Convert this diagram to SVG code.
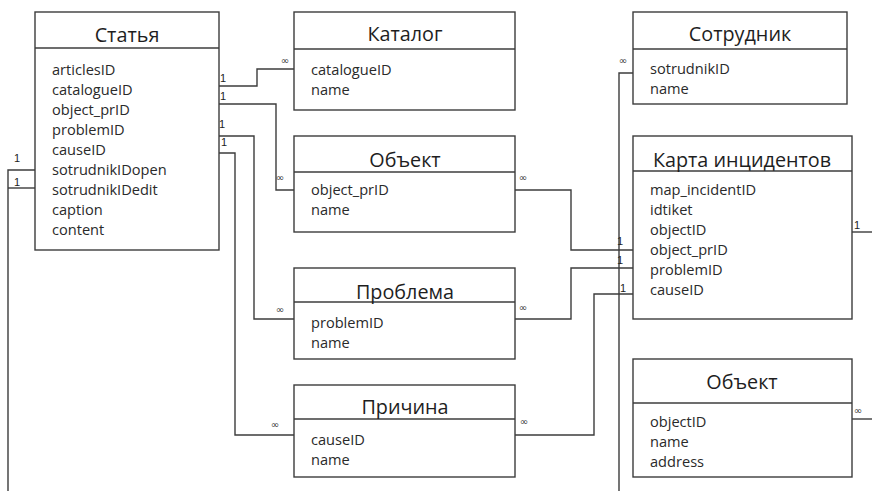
<svg xmlns="http://www.w3.org/2000/svg" width="872" height="491" viewBox="0 0 872 491">
  <style>
    .box { fill: #ffffff; stroke: #3c3c3c; stroke-width: 1.4; }
    .sep { stroke: #3c3c3c; stroke-width: 1.4; }
    .title { font-family: "Open Sans", "DejaVu Sans", sans-serif; font-size: 19.8px; fill: #1e1e1e; text-anchor: middle; }
    .field { font-family: "Open Sans", "DejaVu Sans", sans-serif; font-size: 14.6px; fill: #2a2a2a; }
    .wire { fill: none; stroke: #3c3c3c; stroke-width: 1.4; }
    .one { font-family: "Liberation Sans", Arial, sans-serif; font-size: 11px; fill: #222; }
    .many { font-family: "DejaVu Sans", sans-serif; font-size: 10px; fill: #333; text-anchor: middle; }
  </style>

  <!-- relationship lines -->
  <g id="connectors">
    <!-- Статья.catalogueID -> Каталог -->
    <polyline class="wire" points="219,86 257,86 257,69 294,69"/>
    <!-- Статья.object_prID -> Объект -->
    <polyline class="wire" points="219,104 276,104 276,190 294,190"/>
    <!-- Статья.problemID -> Проблема -->
    <polyline class="wire" points="219,136 254,136 254,319 294,319"/>
    <!-- Статья.causeID -> Причина -->
    <polyline class="wire" points="219,153 235,153 235,435 294,435"/>
    <!-- Статья.sotrudnikID* -> Сотрудник (off to the left) -->
    <polyline class="wire" points="35,170 8,170 8,491"/>
    <polyline class="wire" points="35,188 8,188"/>
    <!-- Сотрудник -> down -->
    <polyline class="wire" points="633,73 619,73 619,491"/>
    <!-- Объект -> Карта инцидентов.object_prID -->
    <polyline class="wire" points="515,190 571,190 571,250 633,250"/>
    <!-- Проблема -> Карта инцидентов.problemID -->
    <polyline class="wire" points="515,319 571,319 571,268 633,268"/>
    <!-- Причина -> Карта инцидентов.causeID -->
    <polyline class="wire" points="515,435 594,435 594,294 633,294"/>
    <!-- Карта инцидентов.objectID -> right -->
    <polyline class="wire" points="852,232 872,232"/>
    <!-- Объект (right) -> right -->
    <polyline class="wire" points="852,419 872,419"/>

    <!-- cardinality labels -->
    <text class="one" x="220" y="82">1</text>
    <text class="one" x="220" y="100">1</text>
    <text class="one" x="219" y="128">1</text>
    <text class="one" x="221" y="146">1</text>
    <text class="one" x="14" y="162">1</text>
    <text class="one" x="14" y="186">1</text>
    <text class="one" x="617" y="245">1</text>
    <text class="one" x="617" y="264">1</text>
    <text class="one" x="620" y="292">1</text>
    <text class="one" x="854" y="229">1</text>

    <text class="many" x="285" y="64">∞</text>
    <text class="many" x="280" y="181">∞</text>
    <text class="many" x="280" y="313">∞</text>
    <text class="many" x="275" y="428">∞</text>
    <text class="many" x="623" y="64">∞</text>
    <text class="many" x="523" y="181">∞</text>
    <text class="many" x="523" y="311">∞</text>
    <text class="many" x="524" y="425">∞</text>
    <text class="many" x="858" y="414">∞</text>
  </g>

  <!-- Статья -->
  <g id="statya">
    <rect class="box" x="35" y="12" width="184" height="238"/>
    <line class="sep" x1="35" y1="48" x2="219" y2="48"/>
    <text class="title" x="127" y="42">Статья</text>
    <text class="field" x="52" y="75">articlesID</text>
    <text class="field" x="52" y="95">catalogueID</text>
    <text class="field" x="52" y="115">object_prID</text>
    <text class="field" x="52" y="135">problemID</text>
    <text class="field" x="52" y="155">causeID</text>
    <text class="field" x="52" y="175">sotrudnikIDopen</text>
    <text class="field" x="52" y="195">sotrudnikIDedit</text>
    <text class="field" x="52" y="215">caption</text>
    <text class="field" x="52" y="235">content</text>
  </g>

  <!-- Каталог -->
  <g id="katalog">
    <rect class="box" x="294" y="12" width="221" height="98"/>
    <line class="sep" x1="294" y1="49" x2="515" y2="49"/>
    <text class="title" x="405" y="41">Каталог</text>
    <text class="field" x="311" y="75">catalogueID</text>
    <text class="field" x="311" y="95">name</text>
  </g>

  <!-- Объект (object_prID) -->
  <g id="obyekt-pr">
    <rect class="box" x="294" y="136" width="221" height="96"/>
    <line class="sep" x1="294" y1="172" x2="515" y2="172"/>
    <text class="title" x="405" y="167">Объект</text>
    <text class="field" x="311" y="195">object_prID</text>
    <text class="field" x="311" y="215">name</text>
  </g>

  <!-- Проблема -->
  <g id="problema">
    <rect class="box" x="294" y="268" width="221" height="91"/>
    <line class="sep" x1="294" y1="302" x2="515" y2="302"/>
    <text class="title" x="405" y="299">Проблема</text>
    <text class="field" x="311" y="328">problemID</text>
    <text class="field" x="311" y="348">name</text>
  </g>

  <!-- Причина -->
  <g id="prichina">
    <rect class="box" x="294" y="385" width="221" height="92"/>
    <line class="sep" x1="294" y1="419" x2="515" y2="419"/>
    <text class="title" x="405" y="414">Причина</text>
    <text class="field" x="311" y="445">causeID</text>
    <text class="field" x="311" y="465">name</text>
  </g>

  <!-- Сотрудник -->
  <g id="sotrudnik">
    <rect class="box" x="633" y="12" width="214" height="92"/>
    <line class="sep" x1="633" y1="49" x2="847" y2="49"/>
    <text class="title" x="740" y="41">Сотрудник</text>
    <text class="field" x="650" y="74">sotrudnikID</text>
    <text class="field" x="650" y="94">name</text>
  </g>

  <!-- Карта инцидентов -->
  <g id="karta">
    <rect class="box" x="633" y="136" width="219" height="183"/>
    <line class="sep" x1="633" y1="171" x2="852" y2="171"/>
    <text class="title" x="742" y="167">Карта инцидентов</text>
    <text class="field" x="650" y="195">map_incidentID</text>
    <text class="field" x="650" y="215">idtiket</text>
    <text class="field" x="650" y="235">objectID</text>
    <text class="field" x="650" y="255">object_prID</text>
    <text class="field" x="650" y="275">problemID</text>
    <text class="field" x="650" y="295">causeID</text>
  </g>

  <!-- Объект (objectID) -->
  <g id="obyekt">
    <rect class="box" x="633" y="359" width="219" height="118"/>
    <line class="sep" x1="633" y1="403" x2="852" y2="403"/>
    <text class="title" x="742" y="389">Объект</text>
    <text class="field" x="650" y="427">objectID</text>
    <text class="field" x="650" y="447">name</text>
    <text class="field" x="650" y="467">address</text>
  </g>
</svg>
